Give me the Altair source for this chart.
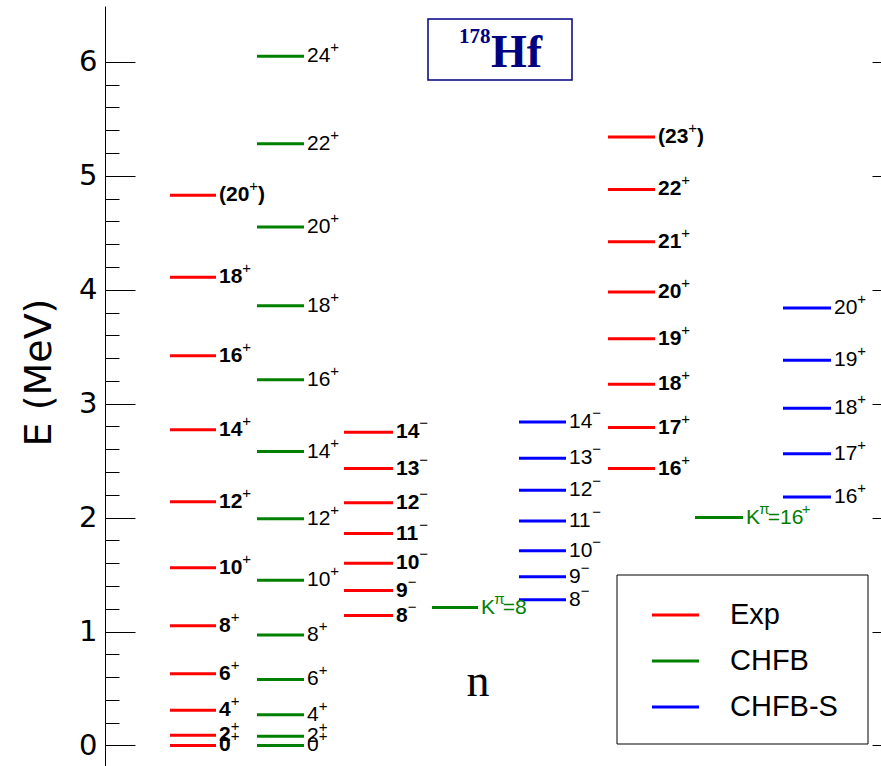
import altair as alt
import pandas as pd

# ---------------- data ----------------
series = ["Exp", "CHFB", "CHFB-S"]
series_colors = ["#ff0000", "#008000", "#0000ff"]

exp_gsb_E = [0.00, 0.09, 0.31, 0.63, 1.05, 1.56, 2.14, 2.77, 3.42, 4.11, 4.83]
exp_gsb_lab = ["0^+", "2^+", "4^+", "6^+", "8^+", "10^+", "12^+", "14^+", "16^+", "18^+", "(20^+)"]

chfb_gsb_E = [0.00, 0.08, 0.27, 0.58, 0.97, 1.45, 1.99, 2.58, 3.21, 3.86, 4.55, 5.28, 6.05]
chfb_gsb_lab = ["0^+", "2^+", "4^+", "6^+", "8^+", "10^+", "12^+", "14^+", "16^+", "18^+", "20^+", "22^+", "24^+"]

exp_neg_E = [1.14, 1.36, 1.60, 1.86, 2.13, 2.43, 2.75]
exp_neg_lab = ["8^−", "9^−", "10^−", "11^−", "12^−", "13^−", "14^−"]

chfb_k8_E = [1.21]
chfb_k8_lab = ["K^π=8"]

chfbs_neg_E = [1.28, 1.48, 1.71, 1.97, 2.24, 2.52, 2.84]
chfbs_neg_lab = ["8^−", "9^−", "10^−", "11^−", "12^−", "13^−", "14^−"]

exp_k16_E = [2.43, 2.79, 3.17, 3.57, 3.98, 4.42, 4.88, 5.34]
exp_k16_lab = ["16^+", "17^+", "18^+", "19^+", "20^+", "21^+", "22^+", "(23^+)"]

chfb_k16_E = [2.00]
chfb_k16_lab = ["K^π=16^+"]

chfbs_pos_E = [2.18, 2.56, 2.96, 3.38, 3.84]
chfbs_pos_lab = ["16^+", "17^+", "18^+", "19^+", "20^+"]

nucleus_mass = "178"
nucleus_symbol = "Hf"
stray_text = "n"
axis_title = "E (MeV)"
major_ticks = [0, 1, 2, 3, 4, 5, 6]
minor_ticks = [0.2, 0.4, 0.6, 0.8, 1.2, 1.4, 1.6, 1.8, 2.2, 2.4, 2.6, 2.8,
               3.2, 3.4, 3.6, 3.8, 4.2, 4.4, 4.6, 4.8, 5.2, 5.4, 5.6, 5.8]

# ---------------- layout (pixels inside the plot area) ----------------
W, H = 776, 760
LABEL_FONT = "Liberation Sans"
BANDS = [
    ("Exp", exp_gsb_E, exp_gsb_lab, 65, 111, "exp"),
    ("CHFB", chfb_gsb_E, chfb_gsb_lab, 152, 199, "th"),
    ("Exp", exp_neg_E, exp_neg_lab, 239, 288, "exp"),
    ("CHFB", chfb_k8_E, chfb_k8_lab, 327, 373, "k"),
    ("CHFB-S", chfbs_neg_E, chfbs_neg_lab, 414, 461, "th"),
    ("Exp", exp_k16_E, exp_k16_lab, 503, 550, "exp"),
    ("CHFB", chfb_k16_E, chfb_k16_lab, 590, 638, "k"),
    ("CHFB-S", chfbs_pos_E, chfbs_pos_lab, 678, 726, "th"),
]
STYLE = {"exp": ("bold", 21, "black"), "th": ("normal", 21, "black"), "k": ("normal", 20, "#008000")}
SUP_SIZE = 15
GAP = 3

ADV = {"(": 0.333, ")": 0.333, "+": 0.584, "−": 0.584, "=": 0.584, "K": 0.667, "π": 0.56}
for d in "0123456789":
    ADV[d] = 0.556


def text_width(s, size):
    return sum(ADV.get(c, 0.55) for c in s) * size


def segments(label):
    out, buf, i = [], "", 0
    while i < len(label):
        if label[i] == "^":
            if buf:
                out.append((buf, False))
                buf = ""
            out.append((label[i + 1], True))
            i += 2
        else:
            buf += label[i]
            i += 1
    if buf:
        out.append((buf, False))
    return out


level_rows, text_rows = [], []
for ser, energies, labels, x0, x1, sty in BANDS:
    weight, size, col = STYLE[sty]
    for e, lab in zip(energies, labels):
        level_rows.append({"series": ser, "E": e, "x0": x0, "x1": x1})
        cur = x1 + GAP
        for seg, sup in segments(lab):
            if sup:
                text_rows.append({"t": seg, "tx": cur, "E": e, "col": col, "kind": "sup"})
                cur += text_width(seg, SUP_SIZE)
            else:
                text_rows.append({"t": seg, "tx": cur, "E": e, "col": col, "kind": weight})
                cur += text_width(seg, size)

levels_df = pd.DataFrame(level_rows)
text_df = pd.DataFrame(text_rows)

xscale = alt.Scale(domain=[0, W], nice=False, zero=False)
yscale = alt.Scale(domain=[-0.18, 6.49], nice=False, zero=False)

rules = alt.Chart(levels_df).mark_rule(strokeWidth=3).encode(
    x=alt.X("x0:Q", scale=xscale,
            axis=alt.Axis(orient="top", domain=True, domainColor="black", domainWidth=1,
                          ticks=False, labels=False, grid=False, title=None)),
    x2="x1:Q",
    y=alt.Y("E:Q", scale=yscale,
            axis=alt.Axis(orient="left", values=major_ticks, ticks=False, tickSize=0,
                          labels=True, labelFont="DejaVu Sans", labelFontSize=29,
                          labelColor="black", labelPadding=8,
                          domain=True, domainColor="black", domainWidth=1, grid=False,
                          title=axis_title, titleFont="DejaVu Sans", titleFontSize=38,
                          titleFontWeight="normal", titleColor="black", titleAngle=270,
                          titleAlign="center", titleBaseline="alphabetic",
                          titleX=-55, titleY=366)),
    color=alt.Color("series:N", scale=alt.Scale(domain=series, range=series_colors), legend=None),
)

txt_bold = alt.Chart(text_df).transform_filter("datum.kind == 'bold'").mark_text(
    font=LABEL_FONT, fontSize=21, fontWeight="bold", align="left", baseline="middle"
).encode(
    x=alt.X("tx:Q", scale=xscale, axis=None),
    y=alt.Y("E:Q", scale=yscale,
            axis=alt.Axis(orient="left", offset=-30, values=major_ticks, tickSize=30,
                          tickColor="black", tickWidth=1, labels=False, domain=False,
                          grid=False, title=None)),
    text="t:N",
    color=alt.Color("col:N", scale=None),
)

txt_norm = alt.Chart(text_df).transform_filter("datum.kind == 'normal'").mark_text(
    font=LABEL_FONT, fontSize=21, align="left", baseline="middle"
).encode(
    x=alt.X("tx:Q", scale=xscale, axis=None),
    y=alt.Y("E:Q", scale=yscale,
            axis=alt.Axis(orient="left", offset=-14, values=minor_ticks, tickSize=14,
                          tickColor="black", tickWidth=1, labels=False, domain=False,
                          grid=False, title=None)),
    text="t:N",
    color=alt.Color("col:N", scale=None),
)

txt_sup = alt.Chart(text_df).transform_filter("datum.kind == 'sup'").mark_text(
    font=LABEL_FONT, fontSize=SUP_SIZE, align="left", baseline="middle", dy=-9
).encode(
    x=alt.X("tx:Q", scale=xscale, axis=None),
    y=alt.Y("E:Q", scale=yscale,
            axis=alt.Axis(orient="right", offset=-9, values=major_ticks, tickSize=9,
                          tickColor="black", tickWidth=1, labels=False, domain=False,
                          grid=False, title=None)),
    text="t:N",
    color=alt.Color("col:N", scale=None),
)

one = pd.DataFrame({"a": [0]})
NAVY = "#000080"
title_box = alt.Chart(one).mark_rect(fill="white", stroke=NAVY, strokeWidth=1.5).encode(
    x=alt.value(323), x2=alt.value(467), y=alt.value(13), y2=alt.value(74))
title_mass = alt.Chart(one).mark_text(
    font="Liberation Serif", fontSize=21, fontWeight="bold", color=NAVY,
    align="left", baseline="alphabetic", text=nucleus_mass
).encode(x=alt.value(354), y=alt.value(37))
title_sym = alt.Chart(one).mark_text(
    font="Liberation Serif", fontSize=46, fontWeight="bold", color=NAVY,
    align="left", baseline="alphabetic", text=nucleus_symbol
).encode(x=alt.value(386), y=alt.value(61))

n_text = alt.Chart(one).mark_text(
    font="Liberation Serif", fontSize=46, color="black",
    align="center", baseline="alphabetic", text=stray_text
).encode(x=alt.value(373), y=alt.value(690))

legend_layers = [alt.Chart(one).mark_rect(fill="white", stroke="black", strokeWidth=1).encode(
    x=alt.value(512), x2=alt.value(763), y=alt.value(569), y2=alt.value(738))]
for i, (name, col) in enumerate(zip(series, series_colors)):
    ly = 609 + 46 * i
    legend_layers.append(alt.Chart(one).mark_rule(strokeWidth=3, color=col).encode(
        x=alt.value(547), x2=alt.value(594), y=alt.value(ly)))
    legend_layers.append(alt.Chart(one).mark_text(
        font=LABEL_FONT, fontSize=29, color="black", align="left", baseline="middle", text=name
    ).encode(x=alt.value(625), y=alt.value(ly)))

chart = alt.layer(
    rules, txt_bold, txt_norm, txt_sup, title_box, title_mass, title_sym, n_text, *legend_layers
).resolve_axis(y="independent").properties(
    width=W, height=H,
    autosize=alt.AutoSizeParams(type="none"),
    padding={"left": 105, "top": 6, "right": 0, "bottom": 0},
    background="white",
).configure_view(stroke=None)

chart.save("out.html", embed_options={"renderer": "svg", "actions": False})
